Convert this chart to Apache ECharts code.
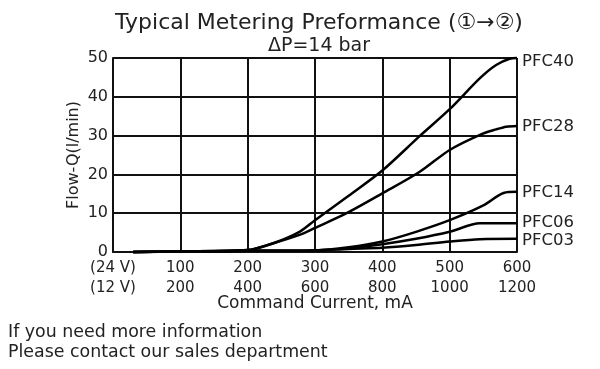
<!DOCTYPE html>
<html><head><meta charset="utf-8">
<script src="https://cdn.jsdelivr.net/npm/echarts@6/dist/echarts.min.js"></script>
<style>html,body{margin:0;padding:0;background:#fff}#c{width:600px;height:369px}</style>
</head><body><div id="c"></div>
<script>
const xTicks24 = [0,100,200,300,400,500,600];
const xTicks12 = ['(12 V)','200','400','600','800','1000','1200'];
const yTicks = [0,10,20,30,40,50];

const pfc40X = [30,100,200,237,277,300,350,400,455,500,545,569,589,600];
const pfc40Y = [0,0.1,0.5,2.2,5.2,8.2,14.5,21,29.8,36.8,44.8,48.2,49.8,50];
const pfc28X = [30,100,200,237,277,300,347,400,455,500,545,569,584,600];
const pfc28Y = [0,0.1,0.5,2.2,4.4,6.2,10,15.1,20.6,26.3,30.2,31.6,32.3,32.5];
const pfc14X = [30,200,300,350,400,450,500,550,580,600];
const pfc14Y = [0,0.3,0.4,1.2,2.7,5.2,8.2,12,15.2,15.5];
const pfc06X = [30,200,300,350,400,450,500,545,600];
const pfc06Y = [0,0.3,0.4,1,2,3.4,5.2,7.4,7.4];
const pfc03X = [30,200,300,350,400,450,500,545,600];
const pfc03Y = [0,0.3,0.4,0.8,1.1,1.8,2.7,3.3,3.4];

const FONT = 'DejaVu Sans, Noto Sans CJK SC, sans-serif';
function zip(xs, ys){ return xs.map((x,i)=>[x, ys[i]]); }
function mk(name, xs, ys, off){
  return {
    name, type:'line', data: zip(xs, ys), showSymbol:false, smooth:0.3,
    lineStyle:{color:'#000', width:2.5}, itemStyle:{color:'#000'}, clip:false,
    endLabel:{show:true, formatter: name, color:'#222', fontSize:16.5, fontFamily:FONT, distance:5, offset:off||[0,0]}
  };
}
const chart = echarts.init(document.getElementById('c'));
chart.setOption({
  animation:false,
  title:{
    text:'Typical Metering Preformance (①→②)', subtext:'ΔP=14 bar', left:314, textAlign:'center', top:7, itemGap:3,
    textStyle:{color:'#222', fontSize:22, fontWeight:'normal', fontFamily:FONT},
    subtextStyle:{color:'#222', fontSize:19, fontFamily:FONT}
  },
  graphic:[
    {type:'text', left:8, top:322, style:{text:'If you need more information\nPlease contact our sales department', fill:'#222', font:'17.4px '+FONT, lineHeight:20}}
  ],
  grid:{left:113, right:83, top:58, bottom:117},
  xAxis:{
    type:'value', min:0, max:600, interval:100,
    name:'Command Current, mA', nameLocation:'middle', nameGap:43, nameMoveOverlap:false,
    nameTextStyle:{color:'#222', fontSize:17, fontFamily:FONT},
    axisLine:{lineStyle:{color:'#111', width:2}}, axisTick:{show:false},
    splitLine:{show:true, lineStyle:{color:'#111', width:2}},
    axisLabel:{color:'#222', fontSize:15, fontFamily:FONT, margin:6, lineHeight:20,
      formatter:v=>{const i=xTicks24.indexOf(v); return (i===0?'(24 V)':String(v))+'\n'+xTicks12[i];}}
  },
  yAxis:{
    type:'value', min:0, max:50, interval:10,
    name:'Flow-Q(l/min)', nameLocation:'middle', nameGap:31, nameRotate:90, nameMoveOverlap:false,
    nameTextStyle:{color:'#222', fontSize:16, fontFamily:FONT},
    axisLine:{show:true, lineStyle:{color:'#111', width:2}}, axisTick:{show:false},
    splitLine:{show:true, lineStyle:{color:'#111', width:2}},
    axisLabel:{color:'#222', fontSize:16, fontFamily:FONT, margin:5, formatter:v=>yTicks.includes(v)?String(v):''}
  },
  series:[
    mk('PFC40', pfc40X, pfc40Y, [0,4]),
    mk('PFC28', pfc28X, pfc28Y, [0,1]),
    mk('PFC14', pfc14X, pfc14Y, [0,1]),
    mk('PFC06', pfc06X, pfc06Y, [0,-1]),
    mk('PFC03', pfc03X, pfc03Y, [0,2])
  ]
});
</script></body></html>
